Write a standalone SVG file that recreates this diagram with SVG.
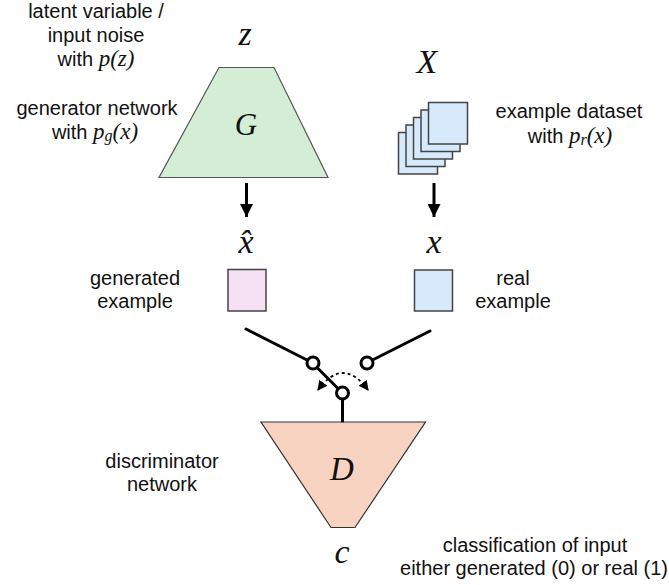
<svg xmlns="http://www.w3.org/2000/svg" width="669" height="585" viewBox="0 0 669 585">
<defs>
<style>
.lbl{font-family:"Liberation Sans",Arial,sans-serif;font-size:20px;fill:#111;text-anchor:middle}
.m{font-family:"Liberation Serif","Times New Roman",serif;font-style:italic;fill:#111}
.mv{font-family:"Liberation Serif","Times New Roman",serif;font-style:italic;fill:#111;text-anchor:middle}
.sq{stroke:#444;stroke-width:1.5}
.wire{stroke:#000;stroke-width:3;fill:none;stroke-linecap:round}
.knob{fill:#fff;stroke:#000;stroke-width:3}
</style>
<marker id="ah" viewBox="0 0 10 10" refX="10" refY="5" markerWidth="13" markerHeight="13" markerUnits="userSpaceOnUse" orient="auto">
<path d="M0,0 L10,5 L0,10 z" fill="#000"/>
</marker>
<marker id="sh" viewBox="0 0 10 10" refX="9" refY="5" markerWidth="10" markerHeight="10" markerUnits="userSpaceOnUse" orient="auto-start-reverse">
<path d="M0,0 L10,5 L0,10 z" fill="#000"/>
</marker>
</defs>
<rect width="669" height="585" fill="#fff"/>

<g id="labels-left">
<text class="lbl" x="96" y="18">latent variable /</text>
<text class="lbl" x="96" y="42">input noise</text>
<text class="lbl" x="96" y="66">with <tspan class="m" font-size="23">p(z)</tspan></text>
<text class="lbl" x="97" y="115">generator network</text>
<text class="lbl" x="95" y="139">with <tspan class="m" font-size="23">p</tspan><tspan class="m" font-size="16" dy="2">g</tspan><tspan class="m" font-size="23" dy="-2">(x)</tspan></text>
</g>

<g id="generator">
<text class="mv" x="245" y="45" font-size="34">z</text>
<path d="M219,67.5 L274,67.5 L328,177.5 L159,177.5 Z" fill="#d4eed5" stroke="#555" stroke-width="1.2"/>
<text class="mv" x="246" y="135" font-size="31">G</text>
</g>

<g id="dataset">
<text class="mv" x="427" y="72.5" font-size="34">X</text>
<rect class="sq" x="398.5" y="132.5" width="39" height="41.5" fill="#d6eafb"/>
<rect class="sq" x="406" y="125" width="39" height="41.5" fill="#d6eafb"/>
<rect class="sq" x="413.5" y="117.5" width="39" height="41.5" fill="#d6eafb"/>
<rect class="sq" x="421" y="110" width="39" height="41.5" fill="#d6eafb"/>
<rect class="sq" x="428.5" y="102.5" width="39" height="41.5" fill="#d6eafb"/>
<text class="lbl" x="569" y="118">example dataset</text>
<text class="lbl" x="570" y="143">with <tspan class="m" font-size="23">p</tspan><tspan class="m" font-size="16" dy="2">r</tspan><tspan class="m" font-size="23" dy="-2">(x)</tspan></text>
</g>

<g id="generated-example">
<text class="mv" x="246" y="253" font-size="34">x̂</text>
<rect class="sq" x="228" y="269.5" width="38" height="41.5" fill="#f6e0f4"/>
<text class="lbl" x="135" y="285">generated</text>
<text class="lbl" x="135" y="308">example</text>
</g>

<g id="real-example">
<text class="mv" x="434" y="253" font-size="34">x</text>
<rect class="sq" x="414.5" y="270" width="38" height="41" fill="#d6eafb"/>
<text class="lbl" x="513" y="285">real</text>
<text class="lbl" x="513" y="308">example</text>
</g>

<g id="discriminator">
<path d="M261,422 L425.5,422 L355,527.5 L331,527.5 Z" fill="#f9d3c2" stroke="#333" stroke-width="1.2"/>
<text class="mv" x="342" y="480" font-size="33">D</text>
<text class="lbl" x="162" y="468">discriminator</text>
<text class="lbl" x="162" y="491">network</text>
</g>

<g id="output">
<text class="mv" x="342" y="563" font-size="34">c</text>
<text class="lbl" x="535" y="552">classification of input</text>
<text class="lbl" x="534" y="575">either generated (0) or real (1)</text>
</g>

<g id="connectors">
<line x1="246.5" y1="183" x2="246.5" y2="217" stroke="#000" stroke-width="3" marker-end="url(#ah)"/>
<line x1="434" y1="183" x2="434" y2="217" stroke="#000" stroke-width="3" marker-end="url(#ah)"/>
<line class="wire" x1="246" y1="329" x2="308" y2="360.5"/>
<line class="wire" x1="317" y1="367.5" x2="338" y2="388.5"/>
<line class="wire" x1="372.5" y1="360" x2="430" y2="331"/>
<line class="wire" x1="342.5" y1="399" x2="342.5" y2="421" stroke-linecap="butt"/>
<circle class="knob" cx="313" cy="363" r="6"/>
<circle class="knob" cx="367" cy="363" r="6"/>
<circle class="knob" cx="342.5" cy="393" r="6"/>
<path d="M318,390 Q343,356 368,390" fill="none" stroke="#000" stroke-width="1.8" stroke-dasharray="3,3" marker-start="url(#sh)" marker-end="url(#sh)"/>
</g>
</svg>
